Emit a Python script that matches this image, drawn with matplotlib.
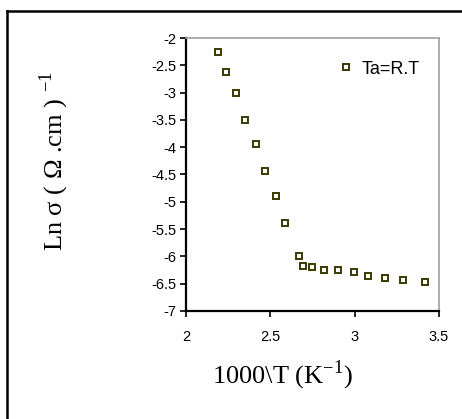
import matplotlib
matplotlib.use("Agg")
import matplotlib.pyplot as plt
from matplotlib.lines import Line2D

# Conductivity data: inverse temperature vs ln(sigma)
inv_temp = [2.192, 2.239, 2.295, 2.350, 2.413, 2.468, 2.534, 2.589, 2.672,
            2.692, 2.745, 2.818, 2.903, 2.996, 3.077, 3.180, 3.289, 3.417]
ln_sigma = [-2.25, -2.62, -3.01, -3.50, -3.95, -4.44, -4.89, -5.38, -6.00,
            -6.17, -6.20, -6.25, -6.25, -6.29, -6.35, -6.40, -6.43, -6.46]
series_label = "Ta=R.T"
x_ticks = [2, 2.5, 3, 3.5]
x_tick_labels = ["2", "2.5", "3", "3.5"]
y_ticks = [-7, -6.5, -6, -5.5, -5, -4.5, -4, -3.5, -3, -2.5, -2]
y_tick_labels = ["-7", "-6.5", "-6", "-5.5", "-5", "-4.5", "-4", "-3.5", "-3", "-2.5", "-2"]

W, H = 462, 419
fig = plt.figure(figsize=(W / 100, H / 100), dpi=100)
fig.patch.set_facecolor("white")

# outer frame (top and left edges)
fig.add_artist(Line2D([7.5 / W, 1.0], [1 - 11.5 / H, 1 - 11.5 / H],
                      transform=fig.transFigure, color="black", lw=1.8))
fig.add_artist(Line2D([7.5 / W, 7.5 / W], [0, 1 - 11.5 / H],
                      transform=fig.transFigure, color="black", lw=1.8))

left, right, top, bottom = 186, 439, 38, 311
ax = fig.add_axes([left / W, 1 - bottom / H, (right - left) / W, (bottom - top) / H])

ax.plot(inv_temp, ln_sigma, linestyle="none", marker="s", markersize=4.6,
        markerfacecolor="none", markeredgecolor="#3a3a00", markeredgewidth=1.4,
        label=series_label)

ax.set_xlim(2, 3.5)
ax.set_ylim(-7, -2)
ax.set_xticks(x_ticks)
ax.set_xticklabels(x_tick_labels)
ax.set_yticks(y_ticks)
ax.set_yticklabels(y_tick_labels)

for side in ("left", "bottom"):
    ax.spines[side].set_color("black")
    ax.spines[side].set_linewidth(1.6)
for side in ("top", "right"):
    ax.spines[side].set_color("#a0a0a0")
    ax.spines[side].set_linewidth(1.2)

ax.tick_params(axis="both", direction="out", length=4.5, width=1.2, color="black")
ax.tick_params(axis="x", pad=9)
ax.tick_params(axis="y", pad=2.5)
for lab in ax.get_xticklabels() + ax.get_yticklabels():
    lab.set_fontfamily("Liberation Sans")
    lab.set_fontsize(10.5)

fig.text(282 / W, 1 - 375 / H, "1000\\T (K$^{\\mathregular{-1}}$)",
         fontfamily="Liberation Serif", fontsize=19, ha="center", va="center")
fig.text(54 / W, 1 - 161 / H, "Ln σ ( Ω .cm ) $^{\\mathregular{-1}}$",
         fontfamily="Liberation Serif", fontsize=19, ha="center", va="center",
         rotation=90)

ax.legend(loc="center left", frameon=False, handlelength=0.8, handletextpad=0.45,
          borderpad=0, borderaxespad=0,
          prop={"family": "Liberation Sans", "size": 13},
          bbox_to_anchor=(0.605, 0.886))

fig.savefig("out.png", dpi=100, facecolor="white")
